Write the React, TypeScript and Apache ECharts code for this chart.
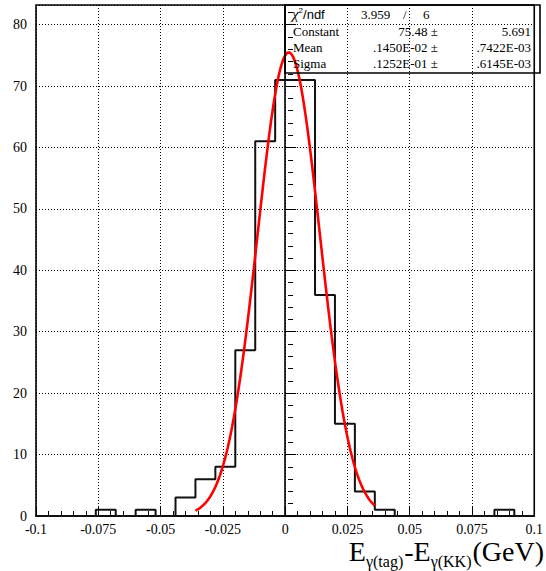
import { useEffect, useRef } from "react";
import * as echarts from "echarts";

// ---- data ----
const binCounts = [0, 0, 0, 1, 0, 1, 0, 3, 6, 8, 27, 61, 71, 71, 36, 15, 4, 1, 0, 0, 0, 0, 0, 1, 0];
const histMin = -0.1;
const histMax = 0.1;
const xTickLabels = ["-0.1", "-0.075", "-0.05", "-0.025", "0", "0.025", "0.05", "0.075", "0.1"];
const xTickStep = 0.025;
const yTickLabels = ["0", "10", "20", "30", "40", "50", "60", "70", "80"];
const yTickStep = 10;
const yMax = 83.2;
const yMinorMax = 82;
const yMinorStep = 2;
const fitConstant = 75.48;
const fitMean = 0.00145;
const fitSigma = 0.01252;
const fitRange = [-0.036, 0.036];
const chiSquare = "3.959";
const ndf = "6";
const statRows = [
  ["Constant", "75.48 \u00b1", "5.691"],
  ["Mean", ".1450E-02 \u00b1", ".7422E-03"],
  ["Sigma", ".1252E-01 \u00b1", ".6145E-03"],
];
// x-axis title pieces: [text, isSubscript]
const titleParts: [string, boolean][] = [
  ["E", false],
  ["\u03b3(tag)", true],
  ["-E", false],
  ["\u03b3(KK)", true],
  ["(GeV)", false],
];

const SERIF = "'Liberation Serif', 'Times New Roman', serif";
const SANS = "'Liberation Sans', Arial, sans-serif";

export default function App() {
  const ref = useRef<HTMLDivElement>(null);
  useEffect(() => {
    if (!ref.current) return;
    const chart = echarts.init(ref.current, undefined, { renderer: "svg" });

    // histogram outline from bin contents
    const w = (histMax - histMin) / binCounts.length;
    const histPts: number[][] = [[histMin, 0]];
    binCounts.forEach((c, i) => {
      const x0 = histMin + i * w;
      histPts.push([x0, c], [x0 + w, c]);
    });
    histPts.push([histMax, 0]);

    // fitted gaussian from displayed parameters
    const nFit = 200;
    const fitPts: number[][] = [];
    for (let i = 0; i <= nFit; i++) {
      const x = fitRange[0] + ((fitRange[1] - fitRange[0]) * i) / nFit;
      const z = (x - fitMean) / fitSigma;
      fitPts.push([x, fitConstant * Math.exp(-0.5 * z * z)]);
    }

    const gridLeft = 36, gridTop = 5, gridW = 504, gridH = 511;
    const pxPerY = gridH / yMax;
    const minorTop = gridTop + gridH - yMinorMax * pxPerY;

    const statsX = 285, statsY = 5, statsW = 255, statsH = 68;
    const rowY = [31.5, 47.5, 63.5];

    // title layout (measure text widths)
    const bigSize = 28, subSize = 16;
    const ctx = document.createElement("canvas").getContext("2d")!;
    const widths = titleParts.map(([t, sub]) => {
      ctx.font = `${sub ? subSize : bigSize}px 'Liberation Serif'`;
      return ctx.measureText(t).width + (sub ? 1 : 0);
    });
    const totalW = widths.reduce((a, b) => a + b, 0);
    let cx = 544 - totalW;
    const titleEls: any[] = titleParts.map(([t, sub], i) => {
      const el = {
        type: "text",
        x: cx,
        y: sub ? 561.5 : 551,
        style: {
          text: t,
          fontFamily: SERIF,
          fontSize: sub ? subSize : bigSize,
          lineHeight: sub ? 13 : 22,
          fill: "#000",
          align: "left",
          verticalAlign: "middle",
        },
        z: 10,
      };
      cx += widths[i];
      return el;
    });

    const option: any = {
      animation: false,
      backgroundColor: "#fff",
      grid: [
        { left: gridLeft, top: gridTop, width: gridW, height: gridH, show: true, borderColor: "#000", borderWidth: 1.6, backgroundColor: "transparent" },
        { left: gridLeft, top: minorTop, width: gridW, height: gridH - (minorTop - gridTop) },
      ],
      xAxis: [
        {
          type: "value",
          gridIndex: 0,
          min: histMin,
          max: histMax,
          interval: xTickStep,
          axisLine: { show: true, onZero: false, lineStyle: { color: "#000", width: 1.6 } },
          axisTick: { show: true, inside: true, length: 10, lineStyle: { color: "#000", width: 1 } },
          minorTick: { show: true, splitNumber: 5, length: 5, lineStyle: { color: "#000", width: 1 } },
          splitLine: { show: true, lineStyle: { color: "#000", width: 1, type: [1, 2] } },
          axisLabel: {
            show: true,
            margin: 6,
            fontFamily: SERIF,
            fontSize: 14,
            lineHeight: 14,
            color: "#000",
            formatter: (v: number) => xTickLabels[Math.round((v - histMin) / xTickStep)] ?? "",
          },
        },
        { type: "value", gridIndex: 1, min: histMin, max: histMax, show: false },
      ],
      yAxis: [
        {
          type: "value",
          gridIndex: 0,
          min: 0,
          max: yMax,
          interval: yTickStep,
          axisLine: { show: true, lineStyle: { color: "#000", width: 1.6 } },
          axisTick: { show: true, inside: true, length: 11, lineStyle: { color: "#000", width: 1 } },
          splitLine: { show: true, lineStyle: { color: "#000", width: 1, type: [1, 2] } },
          axisLabel: {
            show: true,
            margin: 9,
            showMaxLabel: false,
            fontFamily: SERIF,
            fontSize: 14,
            color: "#000",
            formatter: (v: number) => {
              const i = Math.round(v / yTickStep);
              return Math.abs(v - i * yTickStep) < 1e-6 ? yTickLabels[i] ?? "" : "";
            },
          },
        },
        {
          type: "value",
          gridIndex: 1,
          min: 0,
          max: yMinorMax,
          interval: yMinorStep,
          axisLine: { show: false },
          axisTick: { show: true, inside: true, length: 5, lineStyle: { color: "#000", width: 1 } },
          splitLine: { show: false },
          axisLabel: { show: false },
        },
      ],
      series: [
        {
          type: "line",
          xAxisIndex: 0,
          yAxisIndex: 0,
          data: histPts,
          showSymbol: false,
          symbol: "none",
          lineStyle: { color: "#111", width: 2 },
          z: 3,
        },
        {
          type: "line",
          xAxisIndex: 0,
          yAxisIndex: 0,
          data: fitPts,
          showSymbol: false,
          symbol: "none",
          smooth: false,
          lineStyle: { color: "#ff0000", width: 2.6 },
          z: 4,
        },
      ],
      graphic: [
        {
          type: "rect",
          shape: { x: statsX, y: statsY, width: statsW, height: statsH },
          style: { fill: "none", stroke: "#000", lineWidth: 1.6 },
          z: 10,
        },
        {
          type: "text",
          x: 292,
          y: 14,
          style: {
            text: "{c|\u03c7}{s|2}{n|/ndf}",
            verticalAlign: "middle",
            rich: {
              c: { fontFamily: SERIF, fontSize: 15, fontStyle: "italic", fill: "#000" },
              s: { fontFamily: SANS, fontSize: 8, verticalAlign: "top", lineHeight: 8, fill: "#000" },
              n: { fontFamily: SANS, fontSize: 13, fill: "#000" },
            },
          },
          z: 10,
        },
        { type: "text", x: 361, y: 14, style: { text: chiSquare, fontFamily: SERIF, fontSize: 13, fill: "#000", verticalAlign: "middle" }, z: 10 },
        { type: "text", x: 403, y: 14, style: { text: "/", fontFamily: SERIF, fontSize: 13, fill: "#000", verticalAlign: "middle" }, z: 10 },
        { type: "text", x: 423, y: 14, style: { text: ndf, fontFamily: SERIF, fontSize: 13, fill: "#000", verticalAlign: "middle" }, z: 10 },
        ...statRows.flatMap((r, i) => [
          { type: "text", x: 293, y: rowY[i], style: { text: r[0], fontFamily: SERIF, fontSize: 13, fill: "#000", verticalAlign: "middle" }, z: 10 },
          { type: "text", x: 438, y: rowY[i], style: { text: r[1], fontFamily: SERIF, fontSize: 13, fill: "#000", align: "right", verticalAlign: "middle" }, z: 10 },
          { type: "text", x: 531, y: rowY[i], style: { text: r[2], fontFamily: SERIF, fontSize: 13, fill: "#000", align: "right", verticalAlign: "middle" }, z: 10 },
        ]),
        ...titleEls,
      ],
    };
    chart.setOption(option);
    return () => chart.dispose();
  }, []);
  return (
    <div
      ref={ref}
      style={{ position: "fixed", left: 0, top: 0, width: 546, height: 571, background: "#fff" }}
    />
  );
}
